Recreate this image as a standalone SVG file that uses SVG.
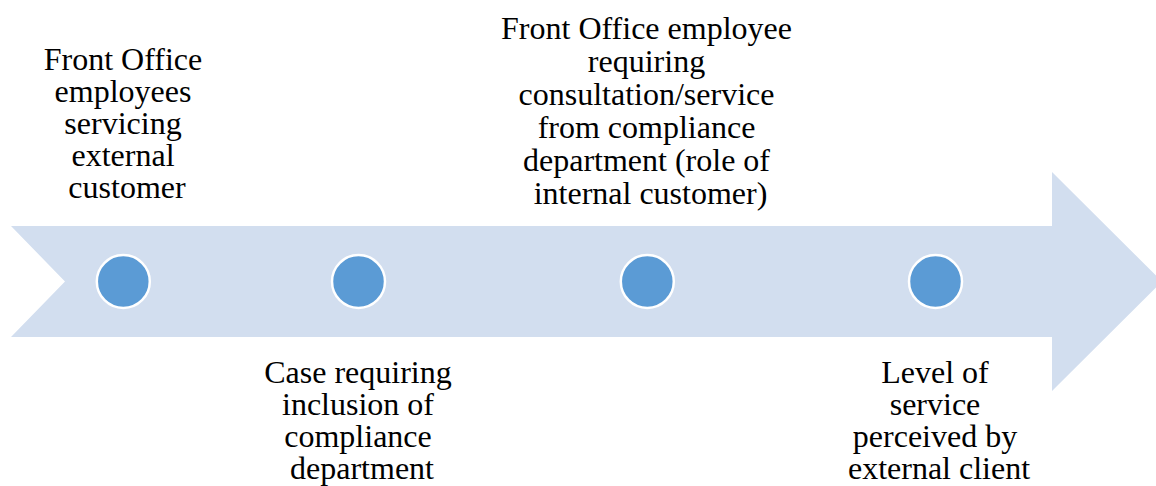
<svg xmlns="http://www.w3.org/2000/svg" width="1156" height="486" viewBox="0 0 1156 486">
  <style>
    .band { fill: #D2DEEF; }
    .dot { fill: #5B9BD5; stroke: #FFFFFF; stroke-width: 2.5; }
    .label { font-size: 32px; fill: #000000; text-anchor: middle; }
  </style>
  <rect width="1156" height="486" fill="#FFFFFF"/>

  <!-- timeline arrow -->
  <g id="connectors">
    <path class="band" d="M11,226 L1052,226 L1052,172 L1162,281.5 L1052,391 L1052,337 L11,337 L65,281.5 Z"/>
  </g>

  <g id="step1">
    <circle class="dot" cx="123.3" cy="281.5" r="26.5"/>
    <text class="label" font-family="'Liberation Serif', 'Times New Roman', serif" x="127" y="70">
      <tspan x="127" y="70">Front Office</tspan>
      <tspan x="127" y="102">employees</tspan>
      <tspan x="127" y="134">servicing</tspan>
      <tspan x="127" y="166">external</tspan>
      <tspan x="127" y="198">customer</tspan>
    </text>
  </g>

  <g id="step2">
    <circle class="dot" cx="358.5" cy="281.5" r="26.5"/>
    <text class="label" font-family="'Liberation Serif', 'Times New Roman', serif" x="362" y="383">
      <tspan x="362" y="383">Case requiring</tspan>
      <tspan x="362" y="415">inclusion of</tspan>
      <tspan x="362" y="447">compliance</tspan>
      <tspan x="362" y="479">department</tspan>
    </text>
  </g>

  <g id="step3">
    <circle class="dot" cx="647.3" cy="281.5" r="26.5"/>
    <text class="label" font-family="'Liberation Serif', 'Times New Roman', serif" x="650.5" y="39">
      <tspan x="650.5" y="39">Front Office employee</tspan>
      <tspan x="650.5" y="72">requiring</tspan>
      <tspan x="650.5" y="105">consultation/service</tspan>
      <tspan x="650.5" y="138">from compliance</tspan>
      <tspan x="650.5" y="171">department (role of</tspan>
      <tspan x="650.5" y="204">internal customer)</tspan>
    </text>
  </g>

  <g id="step4">
    <circle class="dot" cx="935.5" cy="281.5" r="26.5"/>
    <text class="label" font-family="'Liberation Serif', 'Times New Roman', serif" x="939" y="383">
      <tspan x="939" y="383">Level of</tspan>
      <tspan x="939" y="415">service</tspan>
      <tspan x="939" y="447">perceived by</tspan>
      <tspan x="939" y="479">external client</tspan>
    </text>
  </g>
</svg>
